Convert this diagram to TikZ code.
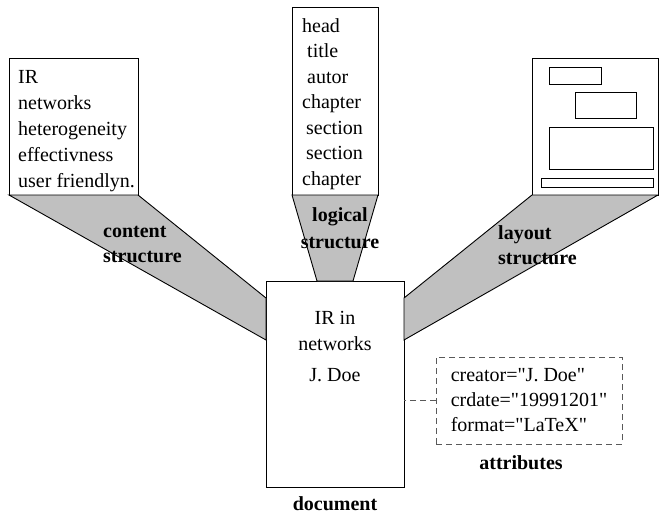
\documentclass[tikz,border=0pt]{standalone}
\usepackage{fontspec}
\setmainfont{Liberation Serif}[Ligatures=TeXOff]
\definecolor{bandgray}{RGB}{192,192,192}
\tikzset{
  box/.style={draw, fill=white, line width=0.9pt, outer sep=0pt, inner sep=0pt},
  band/.style={draw, fill=bandgray, line width=0.9pt},
  txt/.style={inner sep=0pt, align=left, font=\fontsize{20}{26}\selectfont},
  lbl/.style={inner sep=0pt, align=left, font=\fontsize{20}{25}\selectfont\bfseries},
  attrline/.style={draw=black!65, line width=1pt, dash pattern=on 6pt off 4pt},
}
\begin{document}
\begin{tikzpicture}[x=1pt,y=-1pt]
		\useasboundingbox (0,0) rectangle (659,514);

		% the four boxes
		\node [box, minimum width=129pt, minimum height=137pt] (content) at (73.5,126.5) {};
		\node [box, minimum width=86pt, minimum height=188pt] (logical) at (335,101) {};
		\node [box, minimum width=126pt, minimum height=137pt] (layout) at (595,126.5) {};
		\node [box, minimum width=138pt, minimum height=206pt] (doc) at (335,384) {};

		\coordinate (docwa) at ([yshift=-17pt]doc.north west);
		\coordinate (docwb) at ([yshift=-59pt]doc.north west);
		\coordinate (docea) at ([yshift=-17pt]doc.north east);
		\coordinate (doceb) at ([yshift=-59pt]doc.north east);
		\coordinate (docna) at ([xshift=51pt]doc.north west);
		\coordinate (docnb) at ([xshift=-51pt]doc.north east);

		% grey bands
		\draw [band] (content.south west) -- (content.south east) -- (docwa) -- (docwb) -- cycle;
		\draw [band] (logical.south west) -- (logical.south east) -- (docnb) -- (docna) -- cycle;
		\draw [band] (layout.south west) -- (layout.south east) -- (doceb) -- (docea) -- cycle;

		\node [txt, anchor=north west] (contenttxt) at (18,70) {IR\\networks\\heterogeneity\\effectivness\\user friendlyn.};
		\node [txt, anchor=north west, font=\fontsize{20}{25.5}\selectfont] (logicaltxt) at (302,18)
			{head\\\hspace{5pt}title\\\hspace{5pt}autor\\chapter\\\hspace{4pt}section\\\hspace{4pt}section\\chapter};

		\draw [line width=0.8pt] (549,67) rectangle (601,84);
		\draw [line width=0.8pt] (575,92) rectangle (636,118);
		\draw [line width=0.8pt] (549,127) rectangle (653,169);
		\draw [line width=0.8pt] (541,178) rectangle (653,187);

		\node [lbl, anchor=north west] (contentlbl) at (103,226) {content\\structure};
		\node [lbl, anchor=north, align=center, font=\fontsize{20}{27}\selectfont\bfseries] (logicallbl) at (340,207) {logical\\structure};
		\node [lbl, anchor=north west] (layoutlbl) at (498,225) {layout\\structure};

		\node [txt, anchor=north, align=center] (doctxt) at (335,311) {IR in\\networks\\[5pt]J. Doe};
		\node [lbl, anchor=base] (doclbl) at (335,510) {document};

		\node [box, fill=none, attrline, minimum width=186pt, minimum height=87pt,
			align=left, font=\fontsize{20}{25}\selectfont] (attr) at (529,400.5)
			{creator="J. Doe"\\crdate="19991201"\\format="LaTeX"};
		\node [lbl, anchor=base] (attrlbl) at (521,469) {attributes};
		\draw [attrline] (attr.west) -- (attr.west -| doc.east);

\end{tikzpicture}
\end{document}
